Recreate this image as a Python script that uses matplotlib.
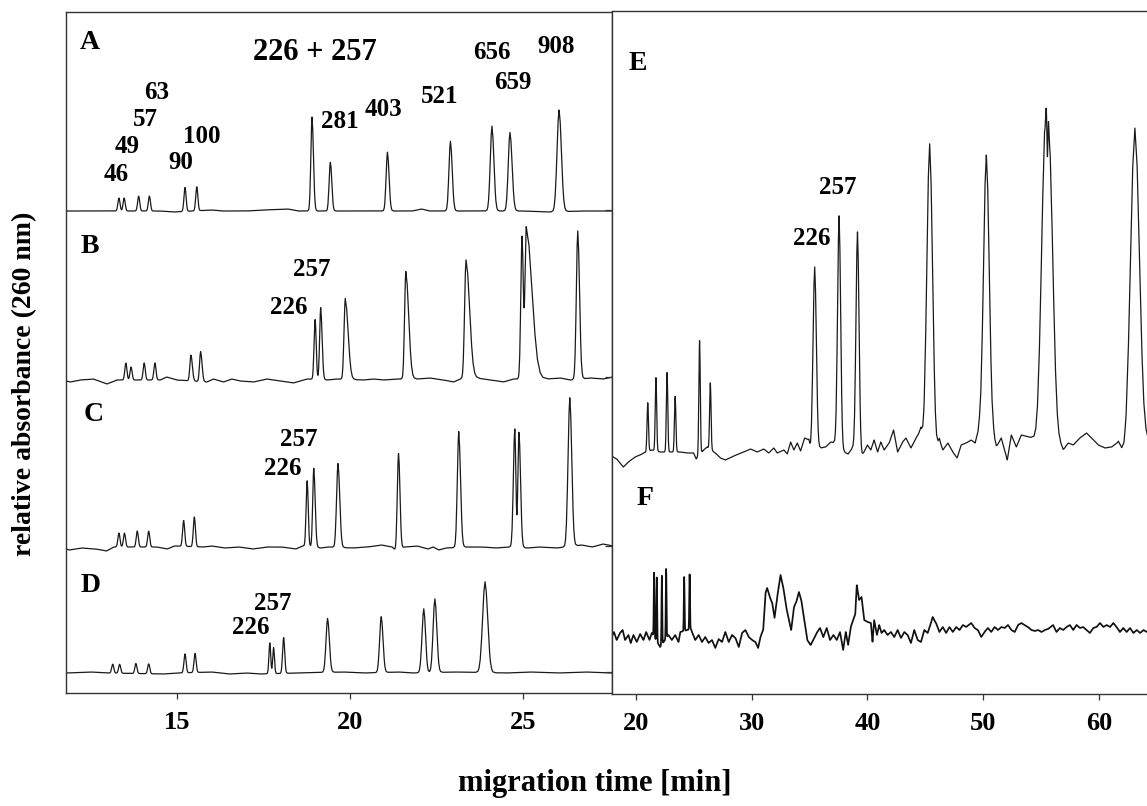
import numpy as np
import matplotlib
matplotlib.use("Agg")
import matplotlib.pyplot as plt

plt.rcParams['font.family'] = ['Liberation Serif', 'DejaVu Serif']
plt.rcParams['font.weight'] = 'bold'

# ---------------- data ----------------
# peak outline used for every peak (offsets in widths, relative height)
SHAPE_X = np.array([-4, -3, -2.5, -2, -1.5, -1, -0.5, 0, 0.5, 1, 1.5, 2, 2.5, 3, 4])
SHAPE_Y = np.array([0, 0.011, 0.044, 0.135, 0.325, 0.607, 0.882, 1, 0.882, 0.607, 0.325, 0.135, 0.044, 0.011, 0])

# trace A
a_peak_t = [13.32, 13.47, 13.89, 14.20, 15.23, 15.57, 18.90, 19.43, 21.08, 22.90, 24.10, 24.62, 26.04]
a_peak_h = [13, 13, 15, 15, 24, 24, 94, 49, 59, 70, 85, 79, 102]
a_wid_l = [0.03, 0.03, 0.03, 0.03, 0.03, 0.03, 0.033, 0.035, 0.038, 0.042, 0.048, 0.048, 0.058]
a_wid_r = [0.03, 0.03, 0.03, 0.03, 0.03, 0.03, 0.04, 0.04, 0.045, 0.05, 0.055, 0.06, 0.065]
a_base_t = [11.8, 13.0, 14.5, 14.9, 16.0, 16.3, 17.0, 17.5, 18.2, 18.5, 20.0, 21.8, 22.06, 22.3, 23.5, 25.0, 25.7, 26.7, 27.6]
a_base_v = [0, 0, 0, -1, 1, 0, 0, 1, 2, 0, 0, 0, 2, 0, 0, 0, -1, 0, 0]

# trace B
b_peak_t = [13.52, 13.67, 14.05, 14.36, 15.40, 15.68, 18.99, 19.15, 19.86, 21.61, 23.35, 24.97, 25.09, 26.58]
b_peak_h = [17, 13, 17, 17, 26, 30, 60, 72, 81, 108, 119, 143, 152, 149]
b_wid_l = [0.03, 0.03, 0.03, 0.03, 0.03, 0.03, 0.03, 0.03, 0.035, 0.035, 0.04, 0.035, 0.035, 0.04]
b_wid_r = [0.03, 0.03, 0.03, 0.03, 0.04, 0.04, 0.03, 0.04, 0.08, 0.08, 0.1, 0.035, 0.16, 0.05]
b_base_t = [11.8, 11.91, 12.2, 12.58, 12.97, 13.26, 14.51, 14.70, 14.99, 15.86, 16.05, 16.34, 16.58, 16.82,
            17.21, 17.59, 17.98, 18.36, 18.75, 19.33, 19.61, 20.39, 20.67, 20.96, 21.35, 21.93, 22.31,
            22.70, 22.99, 23.18, 23.66, 24.05, 24.43, 24.72, 25.68, 26.07, 26.36, 26.94, 27.32, 27.6]
b_base_v = [-1, -2, 0, 1, -4, 0, 0, 3, 0, -2, 1, -2, 1, -1, -2, 1, -1, -3, 1, 0, 1, 0, 1, 0, 1, 1, 2,
            0, -2, 1, 2, 0, -2, 1, 1, 2, 0, 2, 1, 3]

# trace C
c_peak_t = [13.32, 13.48, 13.85, 14.18, 15.19, 15.50, 18.76, 18.95, 19.65, 21.40, 23.14, 24.76, 24.88, 26.35]
c_peak_h = [14, 14, 16, 16, 26, 30, 66, 79, 84, 97, 116, 119, 116, 149]
c_wid_l = [0.03, 0.03, 0.03, 0.03, 0.03, 0.03, 0.03, 0.03, 0.04, 0.035, 0.04, 0.04, 0.03, 0.05]
c_wid_r = [0.03, 0.03, 0.03, 0.03, 0.03, 0.03, 0.03, 0.04, 0.05, 0.04, 0.05, 0.03, 0.045, 0.055]
c_base_t = [11.8, 11.88, 12.24, 12.65, 12.96, 13.17, 14.41, 14.72, 14.92, 15.75, 16.00, 16.37, 16.78, 17.19,
            17.6, 18.02, 18.43, 18.64, 19.15, 19.36, 20.08, 20.5, 20.91, 21.22, 21.32, 21.58, 21.94,
            22.25, 22.40, 22.56, 22.77, 23.38, 23.8, 24.21, 24.57, 25.14, 25.45, 25.97, 26.69, 27.0, 27.31, 27.6]
c_base_v = [-1, -2, 0, -1, -3, 1, 1, -1, 2, 1, 2, 0, 1, -1, 1, 1, -1, 2, 0, 1, 0, 1, 3, 1, -3, 1, 2,
            -1, 1, -2, 0, 1, 1, 0, 1, 0, 1, 0, 3, 1, 4, 2]

# trace D
d_peak_t = [13.14, 13.34, 13.81, 14.18, 15.23, 15.52, 17.68, 17.79, 18.08, 19.35, 20.90, 22.13, 22.45, 23.90]
d_peak_h = [9, 9, 10, 10, 19, 19, 31, 26, 36, 54, 56, 64, 74, 91]
d_wid_l = [0.03, 0.03, 0.03, 0.03, 0.03, 0.03, 0.025, 0.025, 0.03, 0.045, 0.045, 0.05, 0.05, 0.07]
d_wid_r = [0.03, 0.03, 0.03, 0.03, 0.03, 0.03, 0.025, 0.025, 0.03, 0.05, 0.05, 0.05, 0.055, 0.075]
d_base_t = [11.8, 12.5, 13.0, 14.6, 15.0, 16.0, 16.5, 17.0, 17.4, 18.5, 19.8, 20.4, 21.4, 21.8, 23.0,
            24.5, 25.2, 26.0, 26.8, 27.6]
d_base_v = [0, 1, 0, -1, 0, 1, -1, 0, -1, 0, 1, 0, 1, 0, 1, 0, 1, 0, 1, 0]

# trace E
e_peak_t = [21.01, 21.72, 22.68, 23.38, 25.49, 26.42, 35.44, 37.55, 39.14, 45.38, 50.28, 55.30, 55.80, 55.56, 63.12]
e_peak_h = [49, 74, 80, 56, 115, 67, 183, 232, 220, 304, 278, 250, 222, -45, 324]
e_wid = [0.06, 0.06, 0.06, 0.06, 0.06, 0.06, 0.14, 0.13, 0.13, 0.24, 0.24, 0.3, 0.3, 0.04, 0.38]
e_base_t = [17.89, 18.33, 18.90, 19.33, 19.91, 20.35, 20.64, 21.36, 22.08, 23.04, 23.82, 24.40, 24.97, 25.2,
            25.84, 26.13, 26.85, 27.29, 27.72, 28.44, 29.31, 29.89, 30.47, 31.04, 31.47, 31.91, 32.2,
            32.78, 33.07, 33.36, 33.64, 33.94, 34.22, 34.57, 34.94, 35.09, 35.96, 36.39, 36.83, 37.17,
            37.98, 38.33, 38.71, 39.57, 40.0, 40.29, 40.58, 40.88, 41.16, 41.45, 41.88, 42.26, 42.61,
            43.04, 43.33, 43.76, 44.2, 44.63, 44.86, 45.93, 46.22, 46.52, 46.95, 47.38, 47.75, 48.1,
            48.53, 48.97, 49.31, 49.69, 50.85, 51.14, 51.57, 52.09, 52.44, 52.87, 53.3, 54.02, 54.6,
            56.63, 56.92, 57.35, 57.79, 58.36, 58.94, 59.38, 59.96, 60.53, 61.11, 61.69, 62.26, 64.14, 64.6]
e_base_v = [-3, -6, -14, -9, -4, -2, 0, 3, 1, 1, 1, 0, 0, -6,
            3, 6, 0, -5, -7, -3, 1, 4, 1, 4, 0, 5, 0,
            3, -1, 11, 3, 10, 2, 15, 13, 3, 5, 6, 11, 10,
            1, -1, 5, -2, 8, 3, 13, 1, 11, 3, 10, 23, 1,
            11, 15, 5, 15, 23, 8, 3, 13, 3, 10, 1, -5, 8,
            10, 13, 10, 23, 18, 6, 15, -7, 18, 6, 18, 16, 13,
            10, 3, 10, 8, 15, 20, 15, 8, 5, 6, 11, -7, 11, 10]

# trace F
f_peak_t = [21.56, 21.79, 22.23, 22.60, 24.16, 24.63]
f_peak_h = [65, 64, 69, 70, 54, 56]
f_wid = [0.03, 0.03, 0.03, 0.03, 0.03, 0.03]
f_base_t = [17.89, 18.09, 18.32, 18.61, 18.84, 19.05, 19.34, 19.54, 19.77, 20.06, 20.35, 20.64, 20.87, 21.16,
            21.36, 22.08, 22.80, 23.09, 23.38, 23.67, 23.82, 24.75, 24.83, 25.12, 25.41, 25.70, 25.98,
            26.27, 26.56, 26.85, 27.14, 27.43, 27.72, 28.01, 28.30, 28.59, 28.88, 29.16, 29.45, 29.74,
            30.03, 30.32, 30.55, 30.75, 30.99, 31.19, 31.33, 31.56, 31.77, 31.97, 32.2, 32.49, 32.72,
            32.98, 33.21, 33.41, 33.65, 33.85, 34.08, 34.28, 34.51, 34.80, 35.09, 35.32, 35.61, 35.90,
            36.19, 36.48, 36.77, 37.06, 37.35, 37.63, 37.90, 38.13, 38.33, 38.56, 38.95, 39.08, 39.28,
            39.49, 39.72, 40.01, 40.30, 40.44, 40.58, 40.82, 41.02, 41.22, 41.45, 41.74, 42.03, 42.32,
            42.61, 42.90, 43.19, 43.48, 43.76, 44.05, 44.34, 44.63, 44.92, 45.21, 45.44, 45.64, 45.93,
            46.22, 46.51, 46.80, 47.09, 47.38, 47.67, 47.96, 48.25, 48.53, 48.97, 49.26, 49.55, 49.84,
            50.12, 50.41, 50.70, 50.99, 51.28, 51.57, 51.86, 52.15, 52.44, 52.73, 53.02, 53.30, 53.59,
            53.88, 54.17, 54.46, 54.75, 55.04, 55.33, 55.62, 56.05, 56.34, 56.63, 56.92, 57.21, 57.50,
            57.79, 58.08, 58.36, 58.65, 58.94, 59.23, 59.52, 59.81, 60.10, 60.39, 60.68, 60.97, 61.26,
            61.54, 61.83, 62.12, 62.41, 62.70, 62.99, 63.28, 63.57, 63.86, 64.15, 64.6]
f_base_v = [2, 7, -1, 6, 9, -1, 4, -4, 4, -3, 5, -1, 7, -1,
            6, -8, 4, -1, 4, -3, 7, 10, 7, -1, 4, -3, 2,
            -4, -1, -9, 0, -3, 7, -3, 4, 1, -8, 6, 9, 2,
            -1, -3, -9, 2, 9, 46, 51, 42, 36, 21, 42, 64, 52,
            32, 19, 9, 32, 37, 47, 39, 22, -1, -6, -1, 6, 11,
            2, 11, -1, 4, -1, 7, -11, 7, -6, 12, 25, 54, 39,
            42, 19, 17, 16, -3, 19, 4, 14, 6, 9, 4, 7, 2,
            9, 1, 7, 4, -4, 9, -1, -3, 9, 6, 14, 22, 16,
            7, 12, 6, 12, 7, 12, 9, 14, 12, 16, 11, 9, 2,
            7, 11, 7, 12, 9, 12, 11, 14, 9, 7, 14, 16, 14,
            12, 9, 8, 9, 7, 9, 10, 14, 7, 11, 9, 12, 14,
            9, 14, 11, 12, 9, 6, 11, 12, 16, 12, 14, 12, 16,
            12, 7, 11, 7, 11, 6, 9, 6, 9, 7, 8]

# peak annotations
a_labels = ["A", "226 + 257", "656", "908", "659", "521", "403", "281", "63", "57", "49", "46", "100", "90"]
b_labels = ["B", "257", "226"]
c_labels = ["C", "257", "226"]
d_labels = ["D", "257", "226"]
e_labels = ["E", "257", "226"]
f_labels = ["F"]

left_ticks = [15, 20, 25]
right_ticks = [20, 30, 40, 50, 60]


def build_trace(grid, base_t, base_v, pk_t, pk_h, wl, wr):
    y = np.interp(grid, base_t, base_v)
    for t0, h, a, b in zip(pk_t, pk_h, wl, wr):
        xs = t0 + np.where(SHAPE_X < 0, SHAPE_X * a, SHAPE_X * b)
        y = y + h * np.interp(grid, xs, SHAPE_Y, left=0, right=0)
    return y


fig = plt.figure(figsize=(11.47, 8.06), dpi=100)
W, H = 1147, 806

# left frame (A-D)
axl = fig.add_axes([66 / W, 1 - 693 / H, (612 - 66) / W, (693 - 12) / H])
# right frame (E-F), runs off the right edge
axr = fig.add_axes([612 / W, 1 - 694 / H, (1152 - 612) / W, (694 - 11) / H])

line_kw = dict(color="#1a1a1a", lw=0.9)
tl = np.linspace(11.79, 27.57, 6000)
for bt, bv, pt, ph, wl, wr, off in [
        (a_base_t, a_base_v, a_peak_t, a_peak_h, a_wid_l, a_wid_r, 482),
        (b_base_t, b_base_v, b_peak_t, b_peak_h, b_wid_l, b_wid_r, 313),
        (c_base_t, c_base_v, c_peak_t, c_peak_h, c_wid_l, c_wid_r, 145),
        (d_base_t, d_base_v, d_peak_t, d_peak_h, d_wid_l, d_wid_r, 20)]:
    axl.plot(tl, off + build_trace(tl, bt, bv, pt, ph, wl, wr), **line_kw)

tr = np.linspace(17.92, 64.6, 9000)
axr.plot(tr, 241 + build_trace(tr, e_base_t, e_base_v, e_peak_t, e_peak_h, e_wid, e_wid), **line_kw)
axr.plot(tr, 55 + build_trace(tr, f_base_t, f_base_v, f_peak_t, f_peak_h, f_wid, f_wid),
         color="#111111", lw=1.25)

# annotations
big = dict(fontsize=20, fontweight="bold", ha="center", va="center")
num = dict(fontsize=18, fontweight="bold", ha="center", va="center")
a_pos = [(12.49, 650), (18.99, 640), (24.10, 640), (25.95, 646), (24.71, 610), (22.60, 596), (20.95, 583),
         (19.71, 571), (14.42, 600), (14.08, 573), (13.55, 546), (13.24, 518), (15.72, 556), (15.12, 530)]
for i, (lab, (x, y)) in enumerate(zip(a_labels, a_pos)):
    if i == 0:
        axl.text(x, y, lab, **big)
    elif i == 1:
        axl.text(x, y, lab, fontsize=22, fontweight="bold", ha="center", va="center")
    else:
        axl.text(x, y, lab, **num)
for labs, pos in [(b_labels, [(12.49, 446), (18.90, 423), (18.24, 385)]),
                  (c_labels, [(12.60, 278), (18.53, 253), (18.06, 224)]),
                  (d_labels, [(12.51, 108), (17.77, 90), (17.14, 66)])]:
    axl.text(pos[0][0], pos[0][1], labs[0], **big)
    for lab, (x, y) in zip(labs[1:], pos[1:]):
        axl.text(x, y, lab, **num)

axr.text(20.17, 631, e_labels[0], **big)
axr.text(37.43, 507, e_labels[1], **num)
axr.text(35.18, 456, e_labels[2], **num)
axr.text(20.78, 196, f_labels[0], **big)

# axes styling
for ax in (axl, axr):
    for s in ax.spines.values():
        s.set_color("#333333")
        s.set_linewidth(1.0)
    ax.tick_params(axis="x", direction="out", length=4, width=0.9, color="#333333",
                   labelsize=19, pad=9)
axl.set_xticks(left_ticks)
axl.set_yticks([])
axr.set_xticks(right_ticks)
axr.set_yticks([484, 317, 148, 22])
axr.tick_params(axis="y", direction="out", length=5, width=0.9, color="#333333", labelleft=False)
for ax in (axl, axr):
    for lab in ax.get_xticklabels():
        lab.set_fontweight("bold")

# limits last, so the tick setters cannot widen them
axl.set_xlim(11.79, 27.57)
axl.set_ylim(0, 681)
axr.set_xlim(17.92, 64.6)
axr.set_ylim(0, 683)

fig.text(25 / W, 1 - 384 / H, "relative absorbance (260 nm)", rotation=90,
         fontsize=20, fontweight="bold", ha="center", va="center")
fig.text(595 / W, 1 - 784 / H, "migration time [min]",
         fontsize=22, fontweight="bold", ha="center", va="center")

fig.savefig("out.png", dpi=100, facecolor="white")
